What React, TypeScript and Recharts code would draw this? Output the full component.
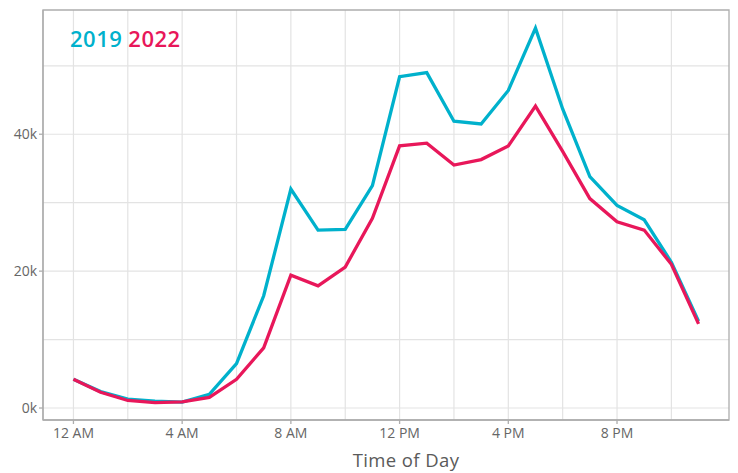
import React from 'react';
import { LineChart, Line, XAxis, YAxis, CartesianGrid, ReferenceArea } from 'recharts';

const hours = [0, 1, 2, 3, 4, 5, 6, 7, 8, 9, 10, 11, 12, 13, 14, 15, 16, 17, 18, 19, 20, 21, 22, 23];
const trips2019 = [4200, 2400, 1300, 1000, 850, 2000, 6500, 16400, 32000, 26000, 26100, 32500, 48400, 49000, 41900, 41500, 46400, 55500, 43700, 33800, 29600, 27500, 21300, 12700];
const trips2022 = [4200, 2300, 1100, 800, 900, 1550, 4200, 8800, 19400, 17850, 20600, 27700, 38300, 38700, 35500, 36300, 38300, 44100, 37500, 30600, 27200, 26000, 21000, 12300];
const xTicks = [0, 4, 8, 12, 16, 20];
const xTickLabels = ['12 AM', '4 AM', '8 AM', '12 PM', '4 PM', '8 PM'];
const xGrid = [0, 2, 4, 6, 8, 10, 12, 14, 16, 18, 20, 22];
const yTicks = [0, 20000, 40000];
const yGrid = [0, 10000, 20000, 30000, 40000, 50000];
const xDomain = [-1.12, 24.12];
const yDomain = [-1750, 58150];

const series = [
  { key: 'y2019', name: '2019', color: '#00B1CC' },
  { key: 'y2022', name: '2022', color: '#E8175A' },
];

const data = hours.map((h, i) => ({ hour: h, y2019: trips2019[i], y2022: trips2022[i] }));

const FONT = '"Open Sans", "DejaVu Sans", sans-serif';
const BORDER = '#ADADAD';

export default function App() {
  return (
    <div style={{ position: 'absolute', left: 0, top: 0, width: 738, height: 473, background: '#fff' }}>
      <LineChart width={738} height={473} data={data} margin={{ top: 10, right: 9, bottom: 0, left: 0 }}>
        <CartesianGrid
          xAxisId="main"
          yAxisId="main"
          stroke="#E3E3E3"
          strokeWidth={1.2}
          horizontalValues={yGrid}
          verticalValues={xGrid}
        />
        <XAxis
          xAxisId="main"
          dataKey="hour"
          type="number"
          domain={xDomain}
          ticks={xTicks}
          allowDataOverflow
          tickFormatter={(v: number) => xTickLabels[xTicks.indexOf(v)] ?? ''}
          height={53}
          stroke={BORDER}
          strokeWidth={1.3}
          tickSize={4}
          tickMargin={4}
          tick={{ fill: '#666', fontSize: 14, fontFamily: FONT }}
          label={{
            content: (props: any) => {
              const vb = props.viewBox || {};
              return (
                <text
                  x={vb.x + vb.width / 2 + 20}
                  y={vb.y + vb.height - 6.5}
                  textAnchor="middle"
                  fill="#5a5a5a"
                  fontSize={18.5}
                  fontFamily={FONT}
                  letterSpacing={0.4}
                >
                  Time of Day
                </text>
              );
            },
          }}
        />
        <YAxis
          yAxisId="main"
          type="number"
          domain={yDomain}
          allowDataOverflow
          ticks={yTicks}
          tickFormatter={(v: number) => `${Math.round(v / 1000)}k`}
          width={43}
          stroke={BORDER}
          strokeWidth={1.3}
          tickSize={4}
          tickMargin={2}
          tick={{ fill: '#666', fontSize: 14, fontFamily: FONT }}
        />
        <ReferenceArea
          xAxisId="main"
          yAxisId="main"
          x1={xDomain[0]}
          x2={xDomain[1]}
          y1={yDomain[0]}
          y2={yDomain[1]}
          fill="none"
          fillOpacity={0}
          stroke={BORDER}
          strokeWidth={1.3}
          ifOverflow="visible"
        />
        {series.map((s) => (
          <Line
            key={s.key}
            xAxisId="main"
            yAxisId="main"
            type="linear"
            dataKey={s.key}
            name={s.name}
            stroke={s.color}
            strokeWidth={3.3}
            dot={false}
            activeDot={false}
            isAnimationActive={false}
          />
        ))}
      </LineChart>
      <div
        style={{
          position: 'absolute',
          left: 70,
          top: 24,
          fontFamily: FONT,
          fontSize: 22,
          fontWeight: 600,
          lineHeight: '28px',
          letterSpacing: 0.5,
          whiteSpace: 'nowrap',
        }}
      >
        {series.map((s, i) => (
          <span key={s.key} style={{ color: s.color, marginRight: i === 0 ? 6 : 0 }}>{s.name}</span>
        ))}
      </div>
    </div>
  );
}
